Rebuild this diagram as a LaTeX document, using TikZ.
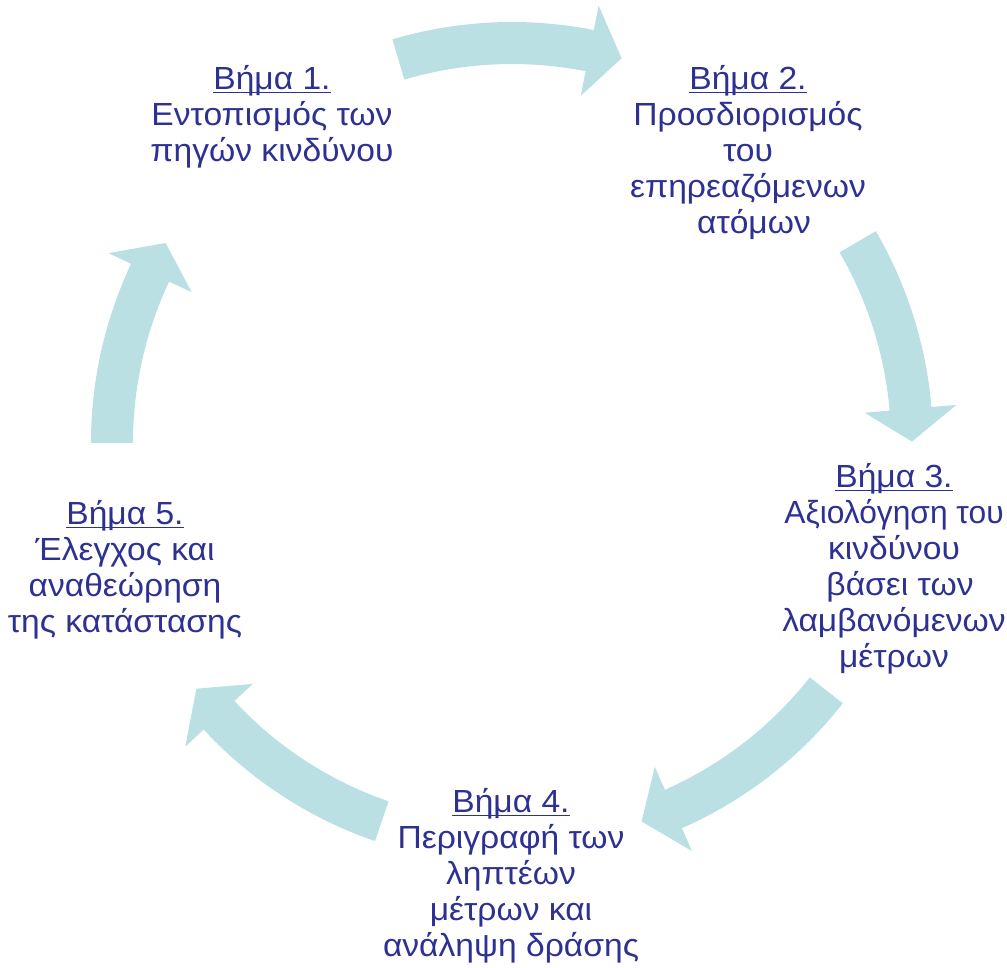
\documentclass[tikz,border=0pt]{standalone}
\usepackage{fontspec}
\setmainfont{Liberation Sans}[FakeStretch=1.05]
\usepackage{array}
\usepackage{graphicx}
\definecolor{stepblue}{RGB}{46,49,146}
\definecolor{arrowteal}{RGB}{186,224,228}
\newcommand\stepul[1]{\setbox0\hbox{#1}\rlap{\rule[-3.5pt]{\wd0}{1.8pt}}\box0}
% curved block arrow on the cycle: start angle, head-base angle, tip angle
\newcommand\cyclearrow[3]{%
  \fill[arrowteal] (#1:421) arc[start angle=#1, end angle=#2, radius=421]
    -- (#2:446) -- (#3:400) -- (#2:354) -- (#2:379)
    arc[start angle=#2, end angle=#1, radius=379] -- cycle;}
\tikzset{steptext/.style={anchor=base, inner sep=0pt, outer sep=0pt, text=stepblue,
  font=\fontsize{32}{36}\selectfont}}
\begin{document}
\begin{tikzpicture}[x=1pt,y=1pt]
\fill[white] (0,0) rectangle (1007,967);
\useasboundingbox (0,0) rectangle (1007,967);
\begin{scope}[shift={(512,524)}]
  \cyclearrow{106.5}{78.8}{74.1}
  \cyclearrow{30.2}{4.9}{0.2}
  \cyclearrow{-38.2}{-66.2}{-71.1}
  \cyclearrow{-109}{-137.1}{-142.1}
  \cyclearrow{180}{154.8}{150}
\end{scope}
\node[steptext] (s1) at (272,877) {\begin{tabular}[t]{@{}c@{}}\stepul{Βήμα 1.}\\ Εντοπισμός των\\ πηγών κινδύνου\end{tabular}};
\node[steptext] (s2) at (748,877) {\begin{tabular}[t]{@{}c@{}}\stepul{Βήμα 2.}\\ Προσδιορισμός\\ του\\ επηρεαζόμενων\\ \hspace*{12pt}ατόμων\end{tabular}};
\node[steptext] (s3) at (894,479) {\begin{tabular}[t]{@{}c@{}}\stepul{Βήμα 3.}\\ \scalebox{0.945}[1]{Αξιολόγηση του}\\ κινδύνου\\ \hspace*{12pt}βάσει των\\ λαμβανόμενων\\ μέτρων\end{tabular}};
\node[steptext] (s4) at (511,154) {\begin{tabular}[t]{@{}c@{}}\stepul{Βήμα 4.}\\ Περιγραφή των\\ ληπτέων\\ μέτρων και\\ ανάληψη δράσης\end{tabular}};
\node[steptext] (s5) at (125,442) {\begin{tabular}[t]{@{}c@{}}\stepul{Βήμα 5.}\\ Έλεγχος και\\ αναθεώρηση\\ της κατάστασης\end{tabular}};
\end{tikzpicture}
\end{document}
